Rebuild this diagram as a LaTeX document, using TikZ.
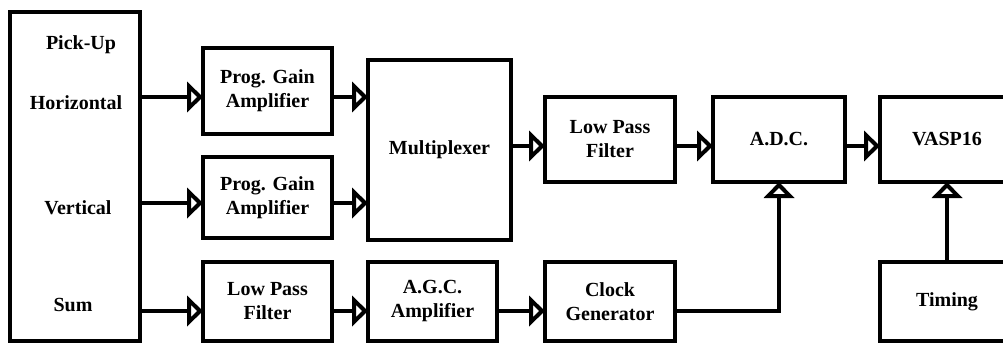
\documentclass[tikz,border=0pt]{standalone}
\usepackage{fontspec}
\setmainfont{Liberation Serif}
\usetikzlibrary{arrows.meta,calc}
\begin{document}
\begin{tikzpicture}[x=1pt,y=-1pt,
  blk/.style={draw,line width=3.2pt,rectangle,inner sep=0pt,outer sep=0pt,align=center,
    font=\fontsize{20}{24}\selectfont\bfseries},
  lbl/.style={inner sep=0pt,anchor=base,font=\fontsize{20}{24}\selectfont\bfseries},
  arr/.style={line width=3.2pt,-{Triangle[open,length=16pt,width=30pt,line width=4pt]}},
  ln/.style={line width=3.2pt}]
\useasboundingbox (0,0) rectangle (1003,343);
\clip (0,0) rectangle (1003,343);
% blocks
\node[blk,minimum width=130pt,minimum height=329pt] (pick) at (75,176.5) {};
\node[blk,minimum width=129pt,minimum height=86pt] (pga1) at (267.5,91) {Prog. Gain\\Amplifier};
\node[blk,minimum width=129pt,minimum height=81pt] (pga2) at (267.5,197.5) {Prog. Gain\\Amplifier};
\node[blk,minimum width=129pt,minimum height=79pt] (lpf1) at (267.5,301.5) {Low Pass\\Filter};
\node[blk,minimum width=143pt,minimum height=180pt] (mux) at (439.5,150) {Multiplexer};
\node[blk,minimum width=130pt,minimum height=85pt] (lpf2) at (610,139.5) {Low Pass\\Filter};
\node[blk,minimum width=129pt,minimum height=79pt] (agc) at (432.5,301.5) {A.G.C.\\Amplifier};
\node[blk,minimum width=130pt,minimum height=79pt] (clk) at (610,301.5) {Clock\\Generator};
\node[blk,minimum width=132pt,minimum height=85pt] (adc) at (779,139.5) {A.D.C.};
\node[blk,minimum width=134pt,minimum height=85pt] (vasp) at (947,139.5) {VASP16};
\node[blk,minimum width=134pt,minimum height=79pt] (tim) at (947,301.5) {Timing};
% pick-up labels
\node[lbl] (tpu) at (81,49) {Pick-Up};
\node[lbl] (thor) at (76,109) {Horizontal};
\node[lbl] (tver) at (78,214) {Vertical};
\node[lbl] (tsum) at (73,311) {Sum};
% levels
\coordinate (yh) at (0,97);
\coordinate (yv) at (0,203);
\coordinate (ys) at (0,311);
\coordinate (ym) at (0,146);
% connectors
\draw[arr] (pick.east |- yh) -- (pga1.west |- yh);
\draw[arr] (pga1.east |- yh) -- (mux.west |- yh);
\draw[arr] (pick.east |- yv) -- (pga2.west |- yv);
\draw[arr] (pga2.east |- yv) -- (mux.west |- yv);
\draw[arr] (pick.east |- ys) -- (lpf1.west |- ys);
\draw[arr] (lpf1.east |- ys) -- (agc.west |- ys);
\draw[arr] (agc.east |- ys) -- (clk.west |- ys);
\draw[arr] (mux.east |- ym) -- (lpf2.west |- ym);
\draw[arr] (lpf2.east |- ym) -- (adc.west |- ym);
\draw[arr] (adc.east |- ym) -- (vasp.west |- ym);
\draw[arr] (clk.east |- ys) -| (adc.south);
\draw[arr] (tim.north) -- (vasp.south);
\end{tikzpicture}
\end{document}
